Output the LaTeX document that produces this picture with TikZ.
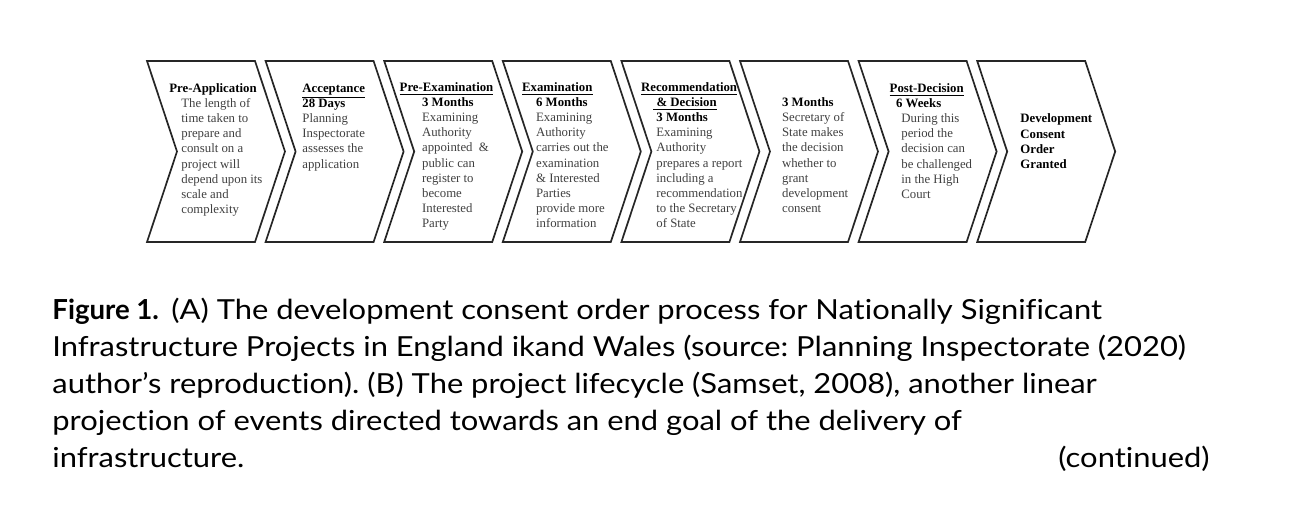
\documentclass[tikz,border=0pt]{standalone}
\usepackage{fontspec}
\setmainfont{Liberation Serif}
\newfontfamily\capfont[FakeStretch=1.12,Ligatures=NoCommon,BoldFeatures={FakeStretch=1.0}]{Lato}
\usetikzlibrary{positioning}

\begin{document}
\begin{tikzpicture}[x=0.5pt,y=-0.5pt,
  chevron/.style={draw=black!85,line width=0.85pt},
  hdtxt/.style={anchor=base west,inner sep=0pt,font=\fontsize{6.4}{7.6}\selectfont\bfseries},
  bodytxt/.style={anchor=base west,inner sep=0pt,font=\fontsize{6.4}{7.6}\selectfont,text=black!75},
  captxt/.style={anchor=base west,inner sep=0pt,font=\capfont\fontsize{13.8}{18.5}\selectfont\frenchspacing}]
\useasboundingbox (0,0) rectangle (1308,504);
% ---- the eight stages ----
\foreach \i in {0,...,7}{
  \pgfmathsetmacro\xa{147+118.6*\i}
  \draw[chevron] (\xa,61) -- ++(108,0) -- ++(30,90.5) -- ++(-30,90.5)
    -- ++(-108,0) -- ++(30,-90.5) -- cycle;
}
% pre-application
\node[hdtxt] (pa-h) at (169,92) {Pre-Application};
\foreach \t [count=\k] in {The length of,time taken to,prepare and,consult on a,
  project will,depend upon its,scale and,complexity}
  \node[bodytxt] (pa-\k) at (181,92+15.2*\k) {\t};
% acceptance
\node[hdtxt] (ac-h) at (302,92) {\underline{Acceptance}};
\node[hdtxt] (ac-d) at (302,107.2) {28 Days};
\foreach \t [count=\k] in {Planning,Inspectorate,assesses the,application}
  \node[bodytxt] (ac-\k) at (302,107.2+15.2*\k) {\t};
% pre-examination
\node[hdtxt] (px-h) at (399.3,91) {\underline{Pre-Examination}};
\node[hdtxt] (px-d) at (421.7,106.2) {3 Months};
\foreach \t [count=\k] in {Examining,Authority,appointed \ \&,public can,
  register to,become,Interested,Party}
  \node[bodytxt] (px-\k) at (421.7,106.2+15.2*\k) {\t};
% examination
\node[hdtxt] (ex-h) at (521.7,91) {\underline{Examination}};
\node[hdtxt] (ex-d) at (535.7,106.2) {6 Months};
\foreach \t [count=\k] in {Examining,Authority,carries out the,examination,
  \& Interested,Parties,provide more,information}
  \node[bodytxt] (ex-\k) at (535.7,106.2+15.2*\k) {\t};
% recommendation & decision
\node[hdtxt] (rd-h) at (640.7,91) {\underline{Recommendation}};
\node[hdtxt] (rd-h2) at (653,106.2) {\underline{\ \& Decision}};
\node[hdtxt] (rd-d) at (656,121.4) {3 Months};
\foreach \t [count=\k] in {Examining,Authority,prepares a report,including a,
  recommendation,to the Secretary,of State}
  \node[bodytxt] (rd-\k) at (656,121.4+15.2*\k) {\t};
% decision
\node[hdtxt] (de-d) at (781.7,106.2) {3 Months};
\foreach \t [count=\k] in {Secretary of,State makes,the decision,whether to,
  grant,development,consent}
  \node[bodytxt] (de-\k) at (781.7,106.2+15.2*\k) {\t};
% post-decision
\node[hdtxt] (pd-h) at (889.3,92) {\underline{Post-Decision}};
\node[hdtxt] (pd-d) at (895.7,107.2) {6 Weeks};
\foreach \t [count=\k] in {During this,period the,decision can,be challenged,
  in the High,Court}
  \node[bodytxt] (pd-\k) at (901,107.2+15.2*\k) {\t};
% granted
\foreach \t [count=\k] in {Development,Consent,Order,Granted}
  \node[hdtxt] (gr-\k) at (1020,107.6+15.2*\k) {\t};
% ---- caption ----
\node[captxt] (cap-1) at (52,319) {\textbf{Figure 1.}\hspace{0.45em}(A) The development consent order process for Nationally Significant};
\node[captxt] (cap-2) at (52,356) {Infrastructure Projects in England ikand Wales (source: Planning Inspectorate (2020)};
\node[captxt] (cap-3) at (52,393) {author’s reproduction). (B) The project lifecycle (Samset, 2008), another linear};
\node[captxt] (cap-4) at (52,430) {projection of events directed towards an end goal of the delivery of};
\node[captxt] (cap-5) at (52,467) {infrastructure.};
\node[captxt,anchor=base east] (cap-6) at (1210,467) {(continued)};
\end{tikzpicture}
\end{document}
